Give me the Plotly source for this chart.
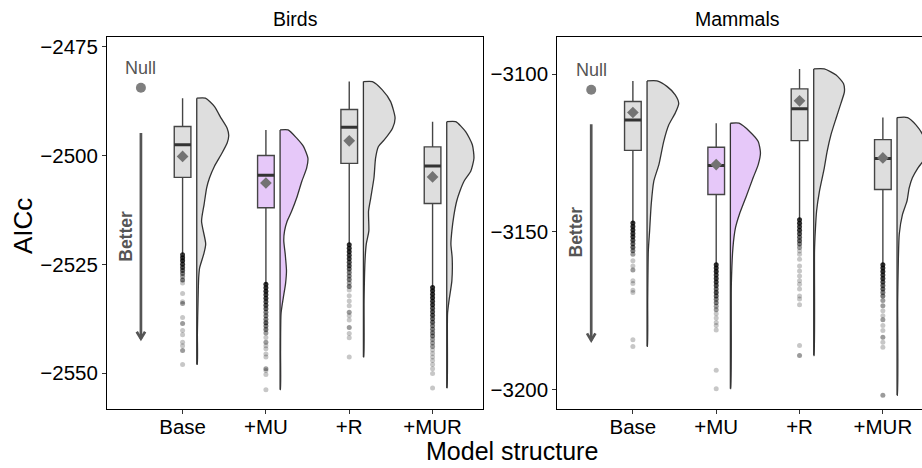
import plotly.graph_objects as go

W, H = 922, 468
FONT = "Liberation Sans, Arial, Helvetica, sans-serif"

categories = ["Base", "+MU", "+R", "+MUR"]
positions = [1, 2, 3, 4]
box_fills = ["#DEDEDE", "#E6C8F9", "#DEDEDE", "#DEDEDE"]

# ---------------- Birds ----------------
birds_null = -2484.4
birds_q1 = [-2505.0, -2512.0, -2501.8, -2511.0]
birds_median = [-2497.5, -2504.5, -2493.5, -2502.4]
birds_q3 = [-2493.3, -2500.0, -2489.4, -2498.0]
birds_whisker_low = [-2522.7, -2529.5, -2520.4, -2530.2]
birds_whisker_high = [-2486.8, -2494.1, -2483.0, -2492.2]
birds_mean = [-2500.2, -2506.3, -2496.6, -2504.9]

# half-violin outlines: AICc values and relative density at each
birds_violin_y = [
    [-2486.8, -2488.7, -2491.4, -2493.7, -2495.4, -2497.1, -2499.8, -2502.5, -2505.1, -2507.4,
     -2511.2, -2515.1, -2520.3, -2522.6, -2525.8, -2528.1, -2533.4, -2540.9, -2548.0],
    [-2494.1, -2496.0, -2497.9, -2500.6, -2502.9, -2505.9, -2509.7, -2512.8, -2515.1, -2517.3,
     -2519.6, -2522.6, -2526.5, -2529.5, -2532.7, -2536.3, -2545.0, -2553.8],
    [-2483.0, -2484.9, -2487.6, -2491.4, -2493.7, -2496.4, -2497.9, -2500.6, -2505.1, -2509.7,
     -2512.8, -2517.3, -2520.3, -2524.2, -2533.4, -2546.3],
    [-2492.2, -2494.5, -2497.5, -2500.6, -2503.6, -2505.9, -2508.2, -2510.5, -2513.9, -2517.3,
     -2520.3, -2523.5, -2528.8, -2533.4, -2536.3, -2553.4],
]
birds_violin_d = [
    [0.27, 0.55, 0.76, 0.95, 1.00, 0.95, 0.76, 0.55, 0.40, 0.31,
     0.23, 0.15, 0.28, 0.22, 0.09, 0.06, 0.04, 0.02, 0.015],
    [0.25, 0.52, 0.73, 0.87, 0.83, 0.68, 0.52, 0.36, 0.22, 0.14,
     0.115, 0.16, 0.20, 0.17, 0.10, 0.03, 0.015, 0.01],
    [0.28, 0.59, 0.85, 0.99, 0.91, 0.65, 0.47, 0.38, 0.33, 0.23,
     0.16, 0.17, 0.09, 0.05, 0.02, 0.01],
    [0.28, 0.59, 0.80, 0.85, 0.75, 0.54, 0.41, 0.31, 0.22, 0.16,
     0.13, 0.17, 0.16, 0.07, 0.025, 0.01],
]

# outlying AICc values and how many runs fall on each
birds_outlier_y = [
    [-2522.8, -2523.5, -2524.2, -2525.0, -2525.7, -2526.4, -2527.1, -2527.8, -2528.6, -2529.3,
     -2531.7, -2533.6, -2534.0, -2537.2, -2538.6, -2540.2, -2541.2, -2542.9, -2543.7, -2544.8, -2548.0],
    [-2529.6, -2530.4, -2531.2, -2532.0, -2532.8, -2533.6, -2534.4, -2535.2, -2536.0, -2536.8,
     -2537.6, -2538.4, -2539.2, -2540.0, -2540.8, -2541.8, -2542.9, -2543.7, -2544.4, -2545.6,
     -2546.3, -2549.0, -2549.4, -2550.3, -2553.8],
    [-2520.5, -2521.3, -2522.1, -2522.9, -2523.7, -2524.5, -2525.3, -2526.1, -2526.9, -2527.7,
     -2528.5, -2529.3, -2530.1, -2530.9, -2532.2, -2533.4, -2534.5, -2536.0, -2536.8, -2537.8,
     -2539.5, -2540.9, -2541.9, -2546.3],
    [-2530.3, -2531.1, -2531.9, -2532.7, -2533.5, -2534.3, -2535.1, -2535.9, -2536.7, -2537.5,
     -2538.3, -2539.1, -2539.9, -2540.7, -2541.5, -2542.3, -2543.1, -2543.9, -2544.7, -2545.5,
     -2546.3, -2547.1, -2548.0, -2549.0, -2550.1, -2553.4],
]
birds_outlier_n = [
    [6, 7, 7, 6, 5, 4, 3, 2, 3, 1, 1, 1, 2, 1, 2, 1, 1, 1, 1, 2, 1],
    [7, 7, 7, 6, 6, 5, 5, 4, 3, 3, 3, 4, 3, 3, 2, 1, 2, 1, 1, 1, 1, 2, 1, 1, 1],
    [7, 7, 7, 6, 6, 5, 5, 4, 3, 3, 3, 2, 3, 1, 1, 1, 1, 2, 1, 1, 2, 1, 1, 1],
    [7, 7, 7, 7, 6, 6, 5, 5, 5, 4, 4, 3, 3, 3, 3, 2, 2, 2, 1, 1, 1, 1, 1, 1, 1, 1],
]

# ---------------- Mammals ----------------
mammals_null = -3105.0
mammals_q1 = [-3124.2, -3138.2, -3121.1, -3136.6]
mammals_median = [-3114.6, -3129.0, -3111.0, -3126.8]
mammals_q3 = [-3108.7, -3123.2, -3104.7, -3120.8]
mammals_whisker_low = [-3147.1, -3160.3, -3146.1, -3160.3]
mammals_whisker_high = [-3102.2, -3115.6, -3098.4, -3113.8]
mammals_mean = [-3112.2, -3128.7, -3108.5, -3126.6]

mammals_violin_y = [
    [-3102.2, -3104.0, -3106.6, -3109.3, -3112.4, -3116.1, -3121.4, -3128.7, -3134.0, -3141.3,
     -3149.7, -3156.0, -3171.8, -3186.3],
    [-3115.6, -3118.2, -3121.4, -3125.0, -3128.7, -3132.9, -3139.2, -3144.5, -3148.7, -3155.0,
     -3166.6, -3199.7],
    [-3098.4, -3100.3, -3103.0, -3105.6, -3109.3, -3114.0, -3119.2, -3124.5, -3129.8, -3137.1,
     -3143.4, -3149.7, -3156.0, -3189.2],
    [-3113.8, -3116.1, -3119.2, -3123.2, -3126.6, -3129.8, -3132.9, -3136.1, -3140.3, -3144.5,
     -3150.7, -3159.2, -3171.8, -3201.8],
]
mammals_violin_d = [
    [0.31, 0.63, 0.88, 0.99, 0.88, 0.68, 0.52, 0.37, 0.21, 0.13, 0.08, 0.04, 0.02, 0.01],
    [0.27, 0.60, 0.87, 0.94, 0.87, 0.71, 0.48, 0.28, 0.16, 0.08, 0.03, 0.01],
    [0.33, 0.70, 0.93, 0.96, 0.85, 0.70, 0.54, 0.42, 0.33, 0.18, 0.09, 0.05, 0.025, 0.01],
    [0.33, 0.59, 0.80, 0.93, 0.88, 0.65, 0.48, 0.38, 0.31, 0.17, 0.07, 0.04, 0.02, 0.01],
]

mammals_outlier_y = [
    [-3147.2, -3148.3, -3149.4, -3150.5, -3151.6, -3152.7, -3153.8, -3154.9, -3156.0, -3157.1,
     -3159.2, -3160.8, -3162.1, -3165.5, -3166.4, -3168.5, -3169.2, -3184.2, -3186.3],
    [-3160.4, -3161.5, -3162.6, -3163.7, -3164.8, -3165.9, -3167.0, -3168.1, -3169.2, -3170.3,
     -3171.4, -3172.5, -3173.6, -3174.7, -3176.0, -3177.3, -3178.7, -3179.7, -3181.1, -3193.9, -3199.7],
    [-3146.2, -3147.3, -3148.4, -3149.5, -3150.6, -3151.7, -3152.8, -3153.9, -3155.0, -3156.1,
     -3157.1, -3158.7, -3160.8, -3162.4, -3164.0, -3165.5, -3166.6, -3168.1, -3170.3, -3171.3,
     -3173.1, -3186.0, -3189.2],
    [-3160.4, -3161.5, -3162.6, -3163.7, -3164.8, -3165.9, -3167.0, -3168.1, -3169.2, -3170.3,
     -3171.8, -3173.4, -3175.0, -3176.6, -3177.9, -3179.7, -3181.3, -3183.4, -3185.0, -3186.6, -3201.8],
]
mammals_outlier_n = [
    [7, 7, 7, 6, 6, 5, 4, 4, 3, 2, 1, 1, 2, 1, 1, 1, 1, 1, 1],
    [7, 7, 7, 6, 6, 6, 5, 4, 5, 4, 3, 3, 2, 2, 1, 1, 1, 1, 1, 1, 1],
    [7, 7, 6, 6, 5, 4, 4, 3, 2, 1, 1, 1, 1, 1, 1, 1, 1, 1, 1, 1, 1, 1, 2],
    [7, 7, 7, 6, 6, 5, 4, 4, 3, 3, 2, 2, 1, 1, 2, 1, 1, 2, 1, 1, 2],
]

y_ticks_birds = [-2475, -2500, -2525, -2550]
y_ticks_mammals = [-3100, -3150, -3200]

# ---------------- geometry & style ----------------
LEFT_DOM = [107 / W, 483.3 / W]
RIGHT_DOM = [557.3 / W, 1.0]
Y_DOM = [1 - 408.3 / H, 1 - 35 / H]
X_PX_PER_UNIT = 83.33
X_START = 0.093
LEFT_XRANGE = [X_START, X_START + (483.3 - 107) / X_PX_PER_UNIT]
RIGHT_XRANGE = [X_START, X_START + (922 - 557.3) / X_PX_PER_UNIT]
BIRDS_YRANGE = [-2558.15, -2472.71]
MAMMALS_YRANGE = [-3206.0, -3088.23]

BOX_W = 0.2
VIOLIN_GAP = 0.17
VIOLIN_SCALE = 0.384
NULL_X = 0.5
LINE_DARK = "#333333"
BOX_LINE = "#454545"
NOTE_GREY = "#555555"
OUTLIER_ALPHA = 0.22

fig = go.Figure()


def add_panel(xa, ya, yrange, null, q1, med, q3, lo, hi, mean, vy, vd, oy, on, arrow_top, arrow_tip):
    y_px_per_unit = (Y_DOM[1] - Y_DOM[0]) * H / (yrange[1] - yrange[0])
    common = dict(xaxis=xa, yaxis=ya, showlegend=False, hoverinfo="skip")
    for i, pos in enumerate(positions):
        # half violin to the right of the box
        x0 = pos + VIOLIN_GAP
        xs = [x0] + [x0 + d * VIOLIN_SCALE for d in vd[i]] + [x0]
        ys = [vy[i][0]] + vy[i] + [vy[i][-1]]
        fig.add_trace(go.Scatter(x=xs, y=ys, mode="lines", fill="toself", fillcolor=box_fills[i],
                                 line=dict(color=LINE_DARK, width=1.3, shape="spline", smoothing=0.6),
                                 **common))
        # flat side of the half violin
        fig.add_trace(go.Scatter(x=[x0, x0], y=[vy[i][0], vy[i][-1]], mode="lines",
                                 line=dict(color=LINE_DARK, width=1.3), **common))
        # box and whiskers
        fig.add_trace(go.Box(x=[pos], q1=[q1[i]], median=[med[i]], q3=[q3[i]],
                             lowerfence=[lo[i]], upperfence=[hi[i]], orientation="v",
                             width=BOX_W, whiskerwidth=0, fillcolor=box_fills[i],
                             line=dict(color=BOX_LINE, width=1.4), boxpoints=False, **common))
        # emphasised median
        fig.add_trace(go.Scatter(x=[pos - BOX_W / 2, pos + BOX_W / 2], y=[med[i], med[i]], mode="lines",
                                 line=dict(color=LINE_DARK, width=3), **common))
        # outliers, shaded by how many runs overlap
        fig.add_trace(go.Scatter(x=[pos] * len(oy[i]), y=oy[i], mode="markers",
                                 marker=dict(size=5, color="black",
                                             opacity=[1 - (1 - OUTLIER_ALPHA) ** n for n in on[i]],
                                             line=dict(width=0)),
                                 **common))
    # means
    fig.add_trace(go.Scatter(x=positions, y=mean, mode="markers",
                             marker=dict(symbol="diamond", size=9, color="#737373", line=dict(width=0)),
                             **common))
    # null model
    fig.add_trace(go.Scatter(x=[NULL_X], y=[null], mode="markers",
                             marker=dict(size=10, color="#7F7F7F", line=dict(width=0)), **common))
    # "better" arrow
    ax = 4.2 / X_PX_PER_UNIT
    ay = 7.0 / y_px_per_unit
    fig.add_trace(go.Scatter(x=[NULL_X, NULL_X, None, NULL_X - ax, NULL_X, NULL_X + ax],
                             y=[arrow_top, arrow_tip, None, arrow_tip + ay, arrow_tip, arrow_tip + ay],
                             mode="lines", line=dict(color=NOTE_GREY, width=2.7), **common))
    fig.add_annotation(x=NULL_X, y=null, xref=xa, yref=ya, text="Null", xanchor="center", yanchor="middle",
                       showarrow=False, yshift=19.5, font=dict(family=FONT, size=18, color=NOTE_GREY))
    fig.add_annotation(x=NULL_X, y=(arrow_top + arrow_tip) / 2, xref=xa, yref=ya, text="<b>Better</b>",
                       textangle=-90, showarrow=False, xshift=-15, xanchor="center", yanchor="middle",
                       font=dict(family=FONT, size=17.5, color=NOTE_GREY))


add_panel("x", "y", BIRDS_YRANGE, birds_null, birds_q1, birds_median, birds_q3, birds_whisker_low,
          birds_whisker_high, birds_mean, birds_violin_y, birds_violin_d, birds_outlier_y, birds_outlier_n,
          -2494.8, -2542.1)
add_panel("x2", "y2", MAMMALS_YRANGE, mammals_null, mammals_q1, mammals_median, mammals_q3,
          mammals_whisker_low, mammals_whisker_high, mammals_mean, mammals_violin_y, mammals_violin_d,
          mammals_outlier_y, mammals_outlier_n, -3115.9, -3184.4)

axis_style = dict(showgrid=False, zeroline=False, showline=True, linecolor="black", linewidth=1.1,
                  ticks="outside", ticklen=4, tickwidth=1.1, tickcolor="#333333",
                  tickfont=dict(family=FONT, size=20.5, color="black"))


def tick_text(vals):
    return [("\u2212" + str(abs(v))) if v < 0 else str(v) for v in vals]


fig.update_layout(
    width=W, height=H, margin=dict(l=0, r=0, t=0, b=0),
    paper_bgcolor="white", plot_bgcolor="white",
    xaxis=dict(domain=LEFT_DOM, range=LEFT_XRANGE, tickvals=positions, ticktext=categories,
               mirror=True, anchor="y", ticklabelstandoff=-4, **axis_style),
    yaxis=dict(domain=Y_DOM, range=BIRDS_YRANGE, tickvals=y_ticks_birds, ticktext=tick_text(y_ticks_birds),
               mirror=True, anchor="x", **axis_style),
    xaxis2=dict(domain=RIGHT_DOM, range=RIGHT_XRANGE, tickvals=positions, ticktext=categories,
                mirror=True, anchor="y2", ticklabelstandoff=-4, **axis_style),
    yaxis2=dict(domain=Y_DOM, range=MAMMALS_YRANGE, tickvals=y_ticks_mammals,
                ticktext=tick_text(y_ticks_mammals), mirror=False, anchor="x2", **axis_style),
)

# panel titles and axis titles
title_common = dict(xref="paper", yref="paper", showarrow=False, xanchor="center", yanchor="middle")
fig.add_annotation(x=295 / W, y=1 - 17 / H, text="Birds",
                   font=dict(family=FONT, size=19.5, color="black"), **title_common)
fig.add_annotation(x=737 / W, y=1 - 17 / H, text="Mammals",
                   font=dict(family=FONT, size=19.5, color="black"), **title_common)
fig.add_annotation(x=512 / W, y=1 - 451 / H, text="Model structure",
                   font=dict(family=FONT, size=25, color="black"), **title_common)
fig.add_annotation(x=23 / W, y=1 - 225 / H, text="AICc", textangle=-90,
                   font=dict(family=FONT, size=26, color="black"), **title_common)

fig.write_html("out.html")
